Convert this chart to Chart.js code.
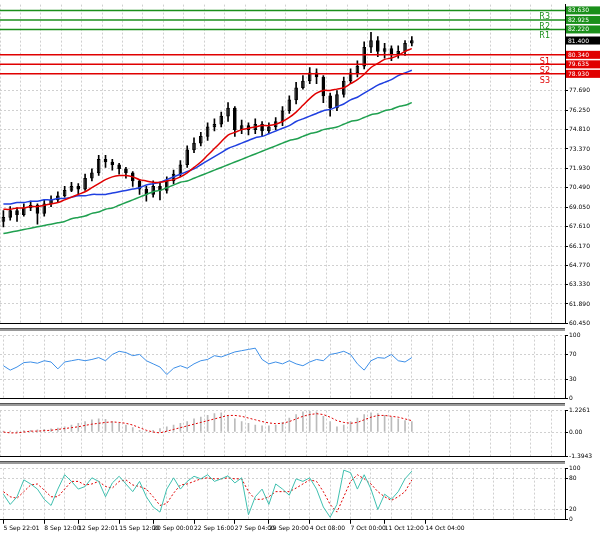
<!DOCTYPE html>
<html><head><meta charset="utf-8">
<script src="https://cdn.jsdelivr.net/npm/chart.js@4/dist/chart.umd.min.js"></script>
<style>
body{margin:0;background:#fff;font-family:"DejaVu Sans",sans-serif}
.p{position:absolute;left:0;width:600px}
.sep{position:absolute;left:0;width:565px;height:2px;background:#999;border-top:1px solid #555}
</style></head><body>
<div class="p" style="top:0;height:328px"><canvas id="main"></canvas></div>
<div class="sep" style="top:328px"></div>
<div class="p" style="top:331px;height:72px"><canvas id="rsi"></canvas></div>
<div class="sep" style="top:403px"></div>
<div class="p" style="top:406px;height:55px"><canvas id="macd"></canvas></div>
<div class="sep" style="top:461px"></div>
<div class="p" style="top:464px;height:73px"><canvas id="stoch"></canvas></div>
<script>
// candles
const closes=[68.3,68.8,68.5,69.0,69.2,68.6,69.3,69.6,69.9,70.3,70.6,70.4,71.2,71.6,72.6,72.4,72.2,71.9,71.6,71.0,70.4,70.0,70.6,70.3,71.0,71.5,72.2,73.3,73.8,74.3,75.0,75.2,75.8,76.4,74.8,75.1,74.8,75.2,74.7,75.0,75.4,76.2,77.0,77.9,78.4,79.0,78.7,77.3,76.4,77.4,78.4,79.0,79.5,80.9,81.4,80.6,80.8,80.4,80.6,81.2,81.4];
const highs=[68.8,69.1,69.0,69.3,69.5,69.3,69.6,69.9,70.2,70.6,70.9,70.8,71.5,71.9,72.9,72.9,72.6,72.3,72.0,71.7,71.1,70.6,71.0,70.9,71.3,71.8,72.5,73.6,74.2,74.6,75.3,75.6,76.1,76.8,76.5,75.5,75.3,75.6,75.4,75.3,75.7,76.5,77.3,78.3,78.8,79.4,79.3,78.8,77.5,77.7,78.7,79.3,79.9,81.3,82.0,81.7,81.2,81.0,81.0,81.4,81.7];
const lows=[67.6,68.1,68.0,68.4,68.8,67.8,68.4,69.1,69.4,69.8,70.2,70.0,70.3,71.0,71.4,72.0,71.8,71.5,71.2,70.6,70.0,69.5,69.8,69.6,70.1,70.8,71.3,72.0,73.1,73.6,74.0,74.7,75.0,75.4,74.3,74.5,74.4,74.5,74.3,74.5,74.8,75.1,76.0,76.7,77.8,78.2,78.2,76.8,75.8,76.2,77.2,78.2,78.7,79.3,80.5,80.2,80.1,79.9,80.1,80.3,81.0];
const maRed=[68.9,68.9,69.0,69.0,69.1,69.1,69.2,69.3,69.4,69.6,69.8,70.0,70.2,70.5,70.8,71.1,71.3,71.4,71.4,71.3,71.1,71.0,70.9,70.9,71.0,71.1,71.3,71.6,72.0,72.4,72.9,73.4,73.9,74.4,74.6,74.8,74.9,75.0,75.1,75.1,75.2,75.4,75.7,76.1,76.6,77.1,77.5,77.7,77.7,77.8,77.9,78.2,78.5,78.9,79.4,79.7,80.0,80.1,80.3,80.6,80.8];
const maBlue=[69.3,69.3,69.4,69.4,69.5,69.5,69.6,69.6,69.7,69.7,69.8,69.9,69.9,70.0,70.0,70.0,70.1,70.2,70.3,70.4,70.5,70.7,70.8,70.9,71.1,71.3,71.5,71.7,71.9,72.2,72.5,72.8,73.1,73.4,73.6,73.8,74.0,74.2,74.3,74.5,74.7,74.9,75.1,75.4,75.6,75.8,76.0,76.2,76.3,76.5,76.7,77.0,77.2,77.5,77.8,78.1,78.3,78.5,78.8,79.0,79.2];
const maGreen=[67.1,67.2,67.3,67.4,67.5,67.6,67.7,67.8,67.9,68.0,68.2,68.3,68.4,68.6,68.7,68.9,69.0,69.2,69.4,69.6,69.8,70.0,70.2,70.3,70.5,70.7,70.9,71.0,71.2,71.4,71.6,71.8,72.0,72.2,72.4,72.6,72.8,73.0,73.2,73.4,73.6,73.8,74.0,74.1,74.3,74.5,74.6,74.8,74.9,75.0,75.2,75.4,75.5,75.7,75.9,76.0,76.2,76.3,76.5,76.6,76.8];
const rsi=[52,45,50,57,58,56,60,58,47,58,60,62,60,62,65,60,70,75,73,68,70,60,55,50,38,48,52,48,55,60,62,68,66,70,74,76,78,80,62,55,58,55,60,55,52,58,62,60,70,72,75,70,55,45,60,65,64,70,60,58,65];
const macdHist=[0.05,0.05,0.06,0.08,0.1,0.12,0.15,0.18,0.22,0.3,0.4,0.5,0.6,0.7,0.75,0.72,0.6,0.5,0.4,0.25,0.1,0.05,0.1,0.2,0.3,0.4,0.5,0.6,0.75,0.85,0.95,1.05,1.1,0.9,0.75,0.6,0.5,0.4,0.35,0.35,0.4,0.55,0.8,1.0,1.15,1.2,1.15,0.9,0.6,0.3,0.4,0.6,0.8,1.0,1.1,1.05,0.95,0.85,0.75,0.65,0.6];
const macdSig=[0.0,-0.05,-0.05,0.0,0.05,0.05,0.08,0.1,0.15,0.2,0.25,0.3,0.38,0.45,0.5,0.55,0.58,0.55,0.5,0.4,0.25,0.1,0.0,-0.05,0.05,0.15,0.25,0.35,0.45,0.55,0.65,0.75,0.85,0.95,0.95,0.9,0.8,0.7,0.6,0.52,0.48,0.5,0.6,0.75,0.9,1.0,1.05,1.0,0.85,0.65,0.55,0.5,0.55,0.7,0.85,0.95,0.95,0.9,0.85,0.75,0.65];
const stochK=[50,30,45,78,70,60,40,28,60,88,75,60,65,82,75,45,72,85,70,55,75,45,25,15,60,82,60,75,85,80,88,75,80,86,72,82,10,45,60,30,70,60,48,80,75,82,60,25,5,30,97,92,60,88,60,20,50,40,55,80,95];
const stochD=[55,45,42,55,68,70,58,45,45,60,75,75,68,70,75,65,62,75,78,68,65,60,45,28,32,52,68,70,75,80,82,80,80,82,80,80,55,40,40,45,55,55,55,62,70,78,75,55,30,15,45,75,88,80,70,55,45,38,45,55,78];
const tickLabels={0:"5 Sep 22:01",6:"8 Sep 12:00",11:"12 Sep 22:01",17:"15 Sep 12:00",22:"20 Sep 00:00",28:"22 Sep 16:00",34:"27 Sep 04:00",39:"29 Sep 20:00",45:"4 Oct 08:00",51:"7 Oct 00:00",56:"11 Oct 12:00",62:"14 Oct 04:00"};
const levels=[["R3",83.63,"#1a8f1a"],["R2",82.925,"#1a8f1a"],["R1",82.22,"#1a8f1a"],["S1",80.34,"#e00000"],["S2",79.635,"#e00000"],["S3",78.93,"#e00000"]];
const priceTicks=[60.45,61.89,63.33,64.77,66.17,67.61,69.05,70.49,71.93,73.37,74.81,76.25,77.69];

const N=83;
const labels=Array.from({length:N},(_,i)=>i);
const opens=closes.map((c,i)=>i?closes[i-1]:c-0.3);
const font={size:6,family:"DejaVu Sans"};
function xAxis(show){
  return {offset:true,
    grid:{color:c=>c.index%3==0?'#d0d0d0':'rgba(0,0,0,0)',drawTicks:show,tickLength:4,
      tickColor:c=>tickLabels[c.index]!==undefined?'#000':'rgba(0,0,0,0)'},
    border:{color:'#000',dash:[2,2]},
    ticks:{display:show,autoSkip:false,maxRotation:0,align:'start',font,color:'#000',padding:1,
      callback:(v,i)=>tickLabels[i]!==undefined?tickLabels[i]:''}};
}
function yAxis(min,max,vals,fmt){
  return {position:'right',min,max,afterFit:s=>{s.width=35},
    afterBuildTicks:s=>{s.ticks=vals.map(v=>({value:v}))},
    grid:{color:'#d0d0d0',drawTicks:true,tickLength:3,tickColor:'#000'},
    border:{color:'#000',dash:[2,2]},
    ticks:{font,color:'#000',padding:1,callback:fmt}};
}
const base={responsive:true,maintainAspectRatio:false,animation:false,
  layout:{padding:{top:0,bottom:0,left:0,right:0}},
  plugins:{legend:{display:false},tooltip:{enabled:false}}};

const levelPlugin={id:'lv',afterDraw(ch){
  const c=ch.ctx,y=ch.scales.y,a=ch.chartArea;
  c.save();
  c.strokeStyle='#000';c.lineWidth=1;c.beginPath();c.moveTo(a.right+0.5,a.top);c.lineTo(a.right+0.5,a.bottom);c.stroke();
  levels.forEach(([n,v,col])=>{
    const py=y.getPixelForValue(v);
    c.strokeStyle=col;c.lineWidth=1.5;c.beginPath();c.moveTo(a.left,py);c.lineTo(a.right,py);c.stroke();
    c.fillStyle=col;c.textAlign='right';c.font='8px "DejaVu Sans"';
    c.fillText(n,a.right-15,py+9);
    c.fillRect(a.right+1,py-4,34,8);c.fillStyle='#fff';c.textAlign='left';c.font='6px "DejaVu Sans"';
    c.fillText(v.toFixed(3),a.right+3,py+2);
  });
  const last=closes[closes.length-1],cp=y.getPixelForValue(last);
  c.fillStyle='#000';c.fillRect(a.right+1,cp-4,34,8);c.fillStyle='#fff';c.font='6px "DejaVu Sans"';
  c.fillText(last.toFixed(3),a.right+3,cp+2);
  c.restore();
}};
const edgePlugin={id:'edge',afterDraw(ch){
  const c=ch.ctx,a=ch.chartArea;
  c.save();c.strokeStyle='#000';c.lineWidth=1;c.beginPath();
  c.moveTo(a.right+0.5,a.top);c.lineTo(a.right+0.5,a.bottom);c.stroke();c.restore();
}};

new Chart(document.getElementById('main'),{type:'bar',
  data:{labels,datasets:[
    {type:'line',data:maRed,borderColor:'#e00000',borderWidth:1.5,pointRadius:0,tension:0.3},
    {type:'line',data:maBlue,borderColor:'#2040e0',borderWidth:1.5,pointRadius:0,tension:0.3},
    {type:'line',data:maGreen,borderColor:'#20a050',borderWidth:1.5,pointRadius:0,tension:0.3},
    {data:highs.map((h,i)=>[lows[i],h]),backgroundColor:'#000',barThickness:1,grouped:false},
    {data:closes.map((c,i)=>[opens[i],c]),backgroundColor:closes.map((c,i)=>c>=opens[i]?'#fff':'#000'),borderColor:'#000',borderWidth:1,borderSkipped:false,barThickness:3,grouped:false}
  ]},
  options:{...base,scales:{x:xAxis(false),y:yAxis(60.45,84.06,priceTicks,v=>v.toFixed(3))}},
  plugins:[levelPlugin]});

new Chart(document.getElementById('rsi'),{type:'line',
  data:{labels,datasets:[{data:rsi,borderColor:'#3d8fe8',borderWidth:1,pointRadius:0}]},
  options:{...base,layout:{padding:{top:3,bottom:2}},scales:{x:xAxis(false),y:yAxis(0,100,[0,30,70,100],v=>v)}},
  plugins:[edgePlugin]});

new Chart(document.getElementById('macd'),{type:'bar',
  data:{labels,datasets:[
    {type:'line',data:macdSig,borderColor:'#e00000',borderWidth:1,borderDash:[2,2],pointRadius:0},
    {data:macdHist,backgroundColor:'#bbb',barThickness:1}]},
  options:{...base,layout:{padding:{top:3,bottom:2}},scales:{x:xAxis(false),y:yAxis(-1.3943,1.2261,[-1.3943,0,1.2261],v=>v==0?'0.00':v.toFixed(4))}},
  plugins:[edgePlugin]});

new Chart(document.getElementById('stoch'),{type:'line',
  data:{labels,datasets:[
    {data:stochK,borderColor:'#40c0b0',borderWidth:1,pointRadius:0},
    {data:stochD,borderColor:'#e00000',borderWidth:1,borderDash:[2,2],pointRadius:0}]},
  options:{...base,layout:{padding:{top:2,bottom:4}},scales:{x:xAxis(true),y:yAxis(0,100,[0,20,80,100],v=>v)}},
  plugins:[edgePlugin]});
</script></body></html>
